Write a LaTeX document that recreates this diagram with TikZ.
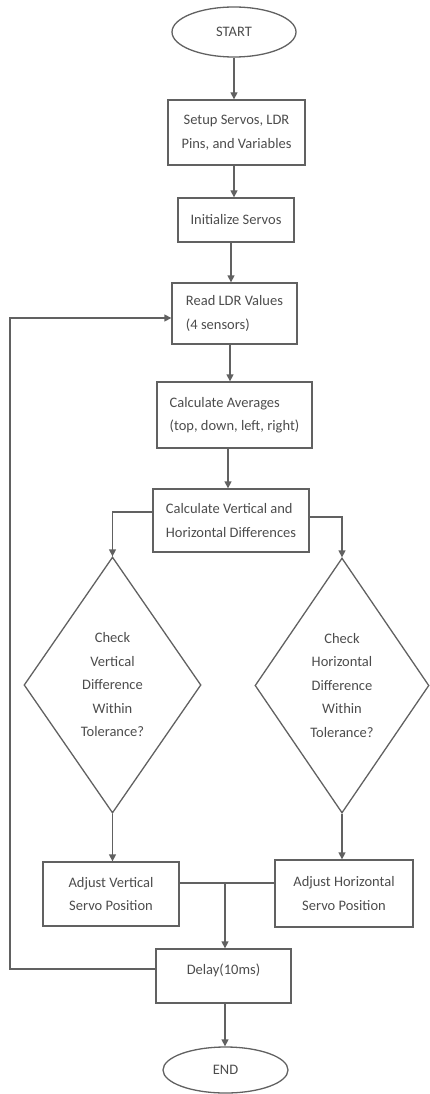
\documentclass[tikz,border=0pt]{standalone}
\usepackage{fontspec}
\setmainfont{Carlito}
\usetikzlibrary{shapes.geometric,arrows.meta}
\definecolor{linec}{gray}{0.38}
\definecolor{textc}{gray}{0.30}
\tikzset{
  base/.style={draw=linec, line width=1.3pt, text=textc, font=\fontsize{14.5}{23.5}\selectfont},
  proc/.style={base, rectangle, inner sep=0pt, align=center},
  procl/.style={base, rectangle, inner sep=0pt, align=left},
  term/.style={base, ellipse, inner sep=0pt},
  dec/.style={base, diamond, inner sep=0pt, align=center},
  link/.style={draw=linec, line width=1.3pt},
  flow/.style={link, -{Triangle[width=7pt,length=7pt]}},
}
\begin{document}
\begin{tikzpicture}[x=1pt,y=-1pt]
\useasboundingbox (0,0) rectangle (429,1094);
\node[term, minimum width=124pt, minimum height=50pt] (start) at (234,32) {START};
\node[proc, minimum width=137pt, minimum height=65pt] (setup) at (236.5,132.5) {Setup Servos, LDR\\Pins, and Variables};
\node[proc, minimum width=116pt, minimum height=44pt] (init) at (236,220) {Initialize Servos};
\node[procl, minimum width=125pt, minimum height=61pt] (read) at (234.5,313.5) {Read LDR Values\\(4 sensors)};
\node[procl, minimum width=155pt, minimum height=66pt] (avg) at (234.5,415) {Calculate Averages\\(top, down, left, right)};
\node[procl, minimum width=156pt, minimum height=63pt] (vert) at (231,520.5) {Calculate Vertical and\\Horizontal Differences};
\node[dec, minimum width=177pt, minimum height=256pt] (dv) at (112.5,685) {Check\\Vertical\\Difference\\Within\\Tolerance?};
\node[dec, minimum width=174pt, minimum height=255pt] (dh) at (342,685.5) {Check\\Horizontal\\Difference\\Within\\Tolerance?};
\node[proc, minimum width=136pt, minimum height=64pt] (adjv) at (111,894) {Adjust Vertical\\Servo Position};
\node[proc, minimum width=138pt, minimum height=67pt] (adjh) at (344,893.5) {Adjust Horizontal\\Servo Position};
\node[proc, minimum width=135pt, minimum height=54pt, text height=10pt, text depth=14pt] (delay) at (223.5,976) {Delay(10ms)};
\node[term, minimum width=125pt, minimum height=46pt] (end) at (225.5,1070) {END};

\coordinate (m) at (225,883);
\coordinate (lp) at (10,0);
\coordinate (rin) at ([yshift=-4.5pt]read.west);

\draw[flow] (start.south) -- (start.south |- setup.north);
\draw[flow] ([xshift=-2.5pt]setup.south) -- ([xshift=-2.5pt]setup.south |- init.north);
\draw[flow] ([xshift=-5pt]init.south) -- ([xshift=-5pt]init.south |- read.north);
\draw[flow] ([xshift=-4.5pt]read.south) -- ([xshift=-4.5pt]read.south |- avg.north);
\draw[flow] ([xshift=-6.5pt]avg.south) -- ([xshift=-6.5pt]avg.south |- vert.north);
\draw[flow] ([yshift=8.5pt]vert.west) -| (dv.north);
\draw[flow] ([yshift=3.5pt]vert.east) -| (dh.north);
\draw[flow] (dv.south) -- (dv.south |- adjv.north);
\draw[flow] (dh.south) -- (dh.south |- adjh.north);
\draw[link] (adjv.east |- m) -- (adjh.west |- m);
\draw[flow] (m) -- (m |- delay.north);
\draw[flow] ([xshift=1.5pt]delay.south) -- ([xshift=1.5pt]delay.south |- end.north);
\draw[flow] ([yshift=7pt]delay.west) -| (lp |- rin) -- (rin);
\end{tikzpicture}
\end{document}
